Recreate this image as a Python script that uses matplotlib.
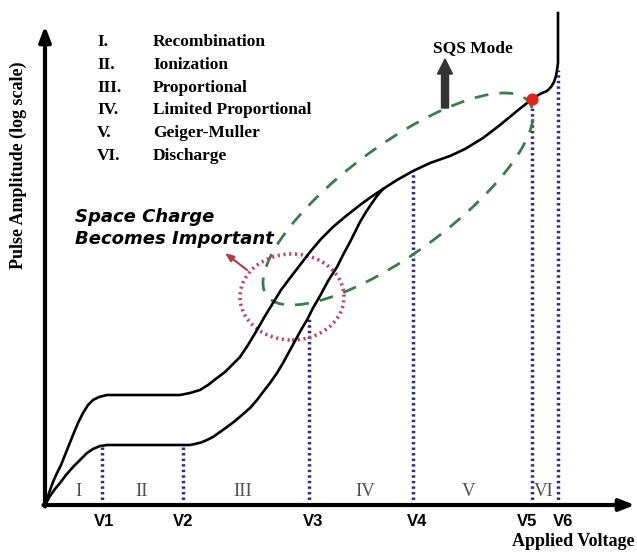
import numpy as np
import matplotlib
matplotlib.use("Agg")
import matplotlib.pyplot as plt
from matplotlib.patches import Ellipse

# %%
# curve points (voltage, amplitude), arbitrary units
upper_v = [0, 4, 8, 12, 16, 20, 24, 28, 33, 38, 43, 48, 54, 62, 95, 135, 145,
           155, 163, 172, 180, 187, 195, 203, 212, 220, 228, 236, 245, 255,
           265, 276, 288, 301, 315, 326, 338, 352, 368, 385, 405, 420, 438,
           455, 472, 487, 495, 502, 506, 509, 511, 512, 513, 513, 513]
upper_a = [0, 12, 23, 32, 40, 50, 60, 70, 82, 92, 100, 105, 108, 110, 110,
           110, 112, 115, 120, 127, 133, 140, 148, 160, 175, 189, 202, 215,
           227, 240, 253, 266, 278, 289, 300, 308, 316, 325, 334, 342, 349,
           356, 367, 380, 394, 406, 411, 414, 418, 423, 429, 435, 442, 450,
           492]

lower_v = [0, 5, 10, 15, 21, 28, 35, 42, 48, 55, 62, 100, 145, 150, 156, 162,
           168, 175, 182, 190, 197, 205, 212, 218, 225, 232, 238, 244, 250,
           256, 262, 268, 275, 283, 292, 298, 305, 310, 315, 321, 327, 332,
           338]
lower_a = [0, 9, 16, 22, 30, 38, 45, 52, 56, 59, 60, 60, 60, 61, 62.5, 65,
           68, 73, 78, 84, 90, 97, 105, 113, 122, 132, 142, 153, 164, 175,
           185, 197, 209, 224, 238, 250, 263, 273, 283, 293, 302, 309, 316]

v_names = ["V1", "V2", "V3", "V4", "V5", "V6"]
v_pos = [57, 138, 264, 368, 487, 513]
v_top = [60, 60, 188, 334, 406, 435]

region_names = ["I", "II", "III", "IV", "V", "VI"]
region_pos = [33, 97, 198, 320, 424, 499]

legend_num = ["I.", "II.", "III.", "IV.", "V.", "VI."]
legend_txt = ["Recombination", "Ionization", "Proportional",
              "Limited Proportional", "Geiger-Muller", "Discharge"]

sqs_point = (487, 406)

# %%
serif = ["Liberation Serif", "DejaVu Serif"]

fig = plt.figure(figsize=(6.37, 5.52), dpi=100)
ax = fig.add_axes([0, 0, 1, 1])
ax.set_xlim(-45, 592)
ax.set_ylim(-47, 505)
ax.axis("off")

# axes as arrows
ax.annotate("", xy=(590, 0), xytext=(-1.5, 0),
            arrowprops=dict(arrowstyle="-|>,head_length=0.9,head_width=0.35",
                            lw=3, color="black", shrinkA=0, shrinkB=0))
ax.annotate("", xy=(0, 479), xytext=(0, -1.5),
            arrowprops=dict(arrowstyle="-|>,head_length=0.9,head_width=0.35",
                            lw=3, color="black", shrinkA=0, shrinkB=0))

# dotted voltage markers
for v, top in zip(v_pos, v_top):
    ax.plot([v, v], [0, top], color="#2c2c8c", lw=2.5,
            linestyle=(0, (0.7, 0.9)), zorder=2)

# the two response curves
ax.plot(upper_v, upper_a, color="black", lw=1.9, zorder=4,
        solid_joinstyle="round")
ax.plot(lower_v, lower_a, color="black", lw=1.9, zorder=4,
        solid_joinstyle="round")

# SQS region
ax.add_patch(Ellipse((353, 306), 326, 108, angle=36.4, fill=False,
                     edgecolor="#3f7a4c", lw=2, linestyle=(0, (5, 4)), zorder=3))
ax.scatter([sqs_point[0]], [sqs_point[1]], s=60, color="#e3221c", zorder=6)
ax.arrow(400, 397, 0, 34, width=7, head_width=15, head_length=15,
         length_includes_head=False, color="#333333", zorder=5)
ax.text(428, 457, "SQS Mode", family=serif, fontweight="bold", fontsize=12.5,
        ha="center", va="center")

# space charge circle
ax.add_patch(Ellipse((247, 208), 104, 86, fill=False, edgecolor="#bb4868",
                     lw=2.6, linestyle=(0, (0.6, 1.0)), zorder=3))
ax.annotate("", xy=(180, 252), xytext=(202, 235),
            arrowprops=dict(arrowstyle="-|>,head_length=0.5,head_width=0.2",
                            lw=1.5, color="#b03a48", shrinkA=0, shrinkB=0))
ax.text(30, 288, "Space Charge", fontsize=13, fontweight="bold",
        style="italic", ha="left", va="center")
ax.text(30, 266, "Becomes Important", fontsize=13, fontweight="bold",
        style="italic", ha="left", va="center")

# legend of regions
for i, (num, txt) in enumerate(zip(legend_num, legend_txt)):
    y = 463 - i * 22.8
    ax.text(52, y, num, family=serif, fontweight="bold", fontsize=12.5,
            ha="left", va="center")
    ax.text(108, y, txt, family=serif, fontweight="bold", fontsize=12.5,
            ha="left", va="center")

# region labels and voltage tick labels
for name, x in zip(region_names, region_pos):
    ax.text(x, 14, name, family=serif, fontsize=13.5, color="#505050",
            ha="center", va="center")
v_offset = [2, 0, 4, 4, -5, 5]
for name, x, dx in zip(v_names, v_pos, v_offset):
    ax.text(x + dx, -17, name, family=["Liberation Sans", "DejaVu Sans"],
            fontweight="bold", fontsize=12, ha="center", va="center")

ax.text(590, -37, "Applied Voltage", family=serif, fontweight="bold",
        fontsize=13, ha="right", va="center")
ax.text(-27, 340, "Pulse Amplitude (log scale)", family=serif,
        fontweight="bold", fontsize=13, rotation=90, ha="center", va="center")

fig.savefig("out.png", dpi=100)
